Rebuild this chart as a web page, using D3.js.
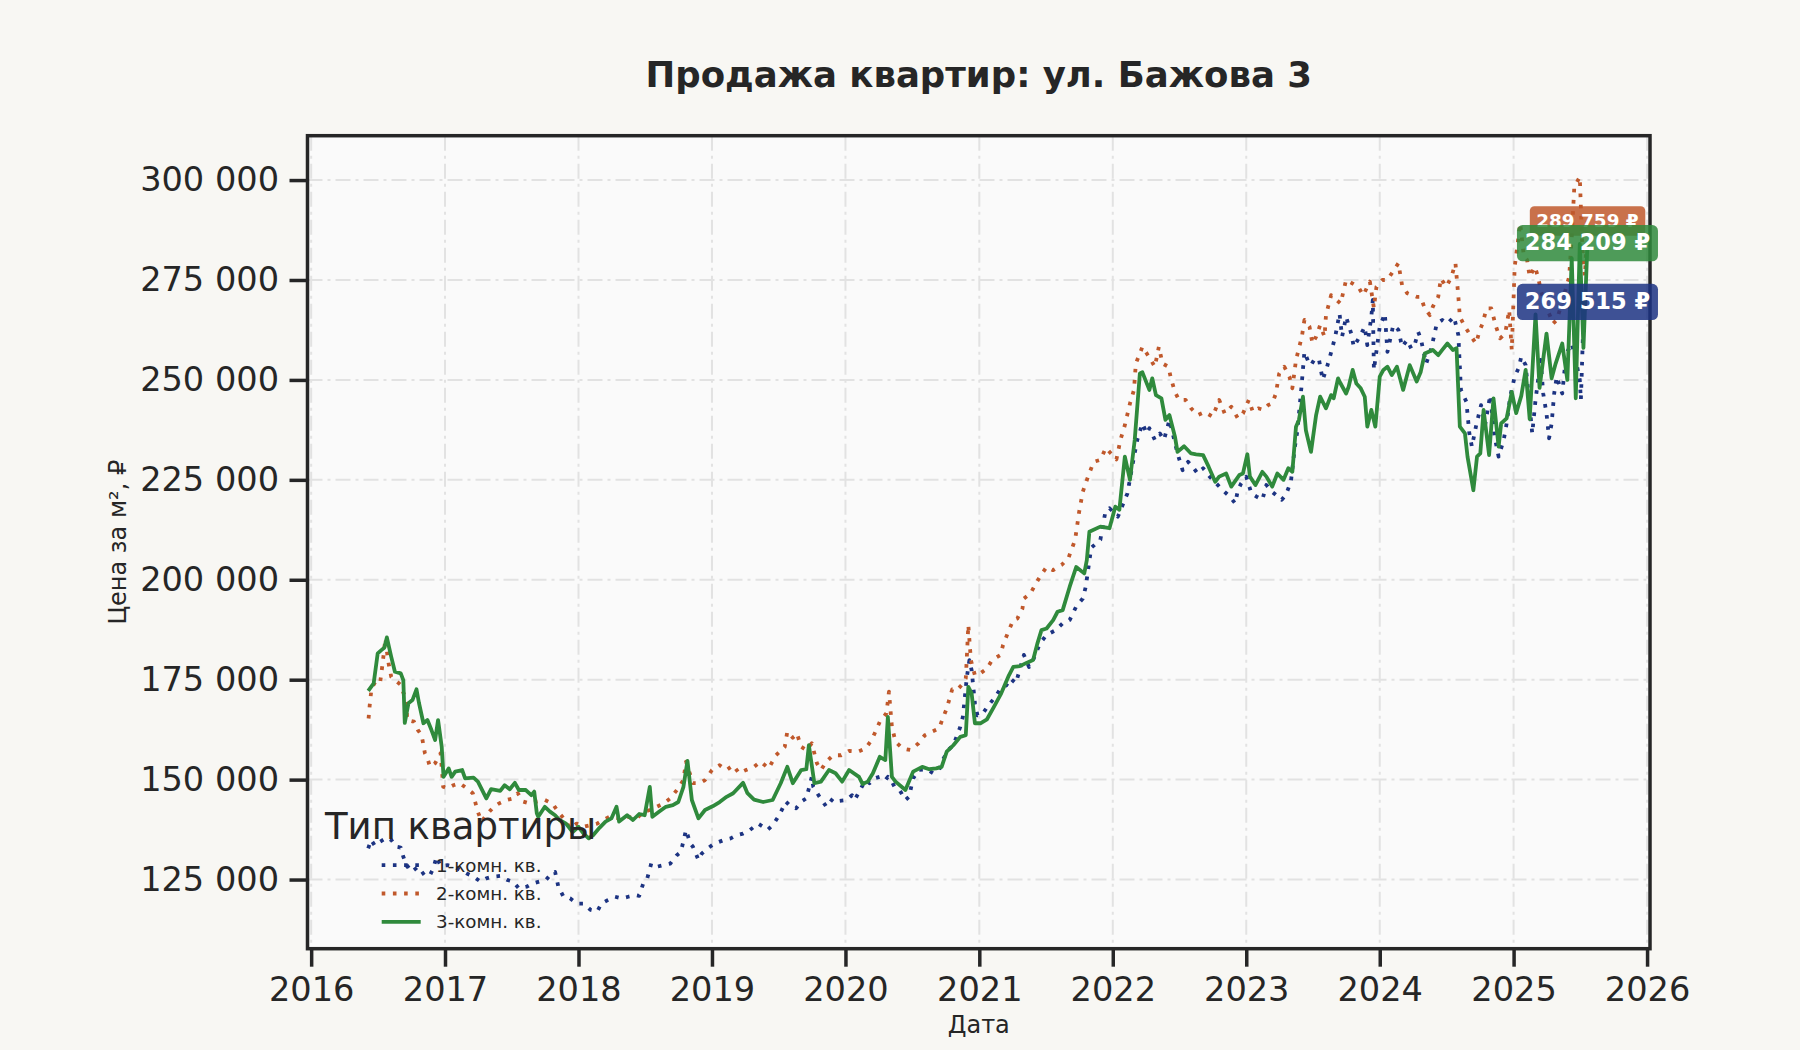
<!DOCTYPE html>
<html><head><meta charset="utf-8">
<script src="https://cdn.jsdelivr.net/npm/d3@7"></script>
<style>
html,body{margin:0;padding:0;background:#f8f7f3;}
svg{display:block;font-family:"DejaVu Sans",sans-serif;}
</style>
</head><body>
<svg id="chart" width="1800" height="1050"></svg>
<script>
// ---------------- DATA ----------------
const chartTitle = "Продажа квартир: ул. Бажова 3";
const xLabel = "Дата";
const yLabel = "Цена за м², ₽";
const legendTitle = "Тип квартиры";
const seriesNames = ["1-комн. кв.", "2-комн. кв.", "3-комн. кв."];
const xTickYears = [2016, 2017, 2018, 2019, 2020, 2021, 2022, 2023, 2024, 2025, 2026];
const yTicks = [125000, 150000, 175000, 200000, 225000, 250000, 275000, 300000];
const xDomain = ["2015-12-22", "2026-01-09"];
const yDomain = [107700, 311100];

const room1 = [
["2016-06-05",132800],["2016-06-13",134900],["2016-06-23",133500],["2016-07-06",134400],["2016-07-26",135500],
["2016-08-07",134900],["2016-08-21",133200],["2016-09-02",133000],["2016-09-09",130700],["2016-09-20",128200],
["2016-10-01",129000],["2016-10-11",127800],["2016-10-26",126100],["2016-11-07",126900],["2016-11-21",126100],
["2016-11-30",127800],["2016-12-09",130700],["2016-12-20",128400],["2017-01-08",128600],["2017-01-26",128200],
["2017-02-12",127400],["2017-03-02",126500],["2017-03-20",125700],["2017-04-08",124500],["2017-04-24",125300],
["2017-05-10",125700],["2017-06-01",125900],["2017-06-20",124900],["2017-07-06",124500],["2017-07-22",122800],
["2017-08-12",123200],["2017-08-28",124000],["2017-09-16",124500],["2017-10-04",124900],["2017-10-19",126500],
["2017-10-29",126900],["2017-11-07",123200],["2017-11-21",120700],["2017-12-09",120300],["2017-12-27",119000],
["2018-01-15",119000],["2018-02-03",117400],["2018-02-21",117000],["2018-03-05",119000],["2018-03-23",119900],
["2018-04-11",120700],["2018-04-29",120300],["2018-05-17",120700],["2018-06-05",121100],["2018-06-16",120900],
["2018-06-27",124000],["2018-07-08",125300],["2018-07-19",129000],["2018-08-03",128200],["2018-08-21",128600],
["2018-09-09",129000],["2018-09-27",131100],["2018-10-08",131900],["2018-10-22",137400],["2018-11-03",134000],
["2018-11-10",133200],["2018-11-25",129900],["2018-12-04",131500],["2018-12-20",132800],["2019-01-08",134000],
["2019-02-03",134900],["2019-02-21",135300],["2019-03-09",136100],["2019-03-27",136500],["2019-04-15",137400],
["2019-05-07",139000],["2019-05-21",138200],["2019-06-02",137400],["2019-06-16",138600],["2019-07-04",141100],
["2019-07-22",144500],["2019-08-01",143600],["2019-08-19",142800],["2019-09-02",144500],["2019-09-16",145300],
["2019-10-01",150700],["2019-10-05",148200],["2019-10-22",145700],["2019-11-10",143200],["2019-11-28",145300],
["2019-12-16",144700],["2020-01-04",144900],["2020-01-19",146100],["2020-01-26",144900],["2020-02-10",147400],
["2020-02-25",149900],["2020-03-07",149100],["2020-03-20",150300],["2020-04-04",150700],["2020-04-19",149900],
["2020-04-26",150700],["2020-05-07",149500],["2020-05-14",148200],["2020-05-28",147400],["2020-06-13",144900],
["2020-06-23",145700],["2020-07-04",150300],["2020-07-19",152400],["2020-08-10",152600],["2020-08-28",151600],
["2020-09-13",152400],["2020-09-23",154900],["2020-10-08",157400],["2020-10-22",158600],["2020-11-10",163200],
["2020-11-17",165700],["2020-11-28",175700],["2020-12-05",179900],["2020-12-11",177400],["2020-12-20",169100],
["2020-12-27",166100],["2021-01-11",166600],["2021-01-26",168600],["2021-02-14",170700],["2021-02-28",172800],
["2021-03-16",173600],["2021-03-27",175300],["2021-04-11",174100],["2021-05-03",181200],["2021-05-17",178200],
["2021-05-28",179900],["2021-06-16",184100],["2021-07-04",186200],["2021-07-29",187400],["2021-08-17",189100],
["2021-09-05",189900],["2021-09-23",193300],["2021-10-11",195300],["2021-10-19",198200],["2021-11-03",208000],
["2021-11-28",210000],["2021-12-11",216600],["2021-12-23",217900],["2022-01-15",215800],["2022-02-10",221600],
["2022-02-28",230800],["2022-03-09",235000],["2022-03-23",239100],["2022-04-04",236600],["2022-04-11",237900],
["2022-04-26",235000],["2022-05-10",236600],["2022-05-21",235000],["2022-06-05",240000],["2022-06-16",235800],
["2022-06-27",231600],["2022-07-11",227400],["2022-07-26",229500],["2022-08-07",228300],["2022-08-21",226600],
["2022-09-05",227900],["2022-09-23",225800],["2022-10-11",224100],["2022-10-29",222400],["2022-11-17",220800],
["2022-12-02",219100],["2022-12-09",222400],["2022-12-18",224100],["2023-01-01",225800],["2023-01-15",221600],
["2023-01-29",220800],["2023-02-14",220000],["2023-02-25",223700],["2023-03-13",222000],["2023-04-08",220000],
["2023-04-19",221200],["2023-05-03",224500],["2023-05-14",233300],["2023-05-21",237400],["2023-06-01",248300],
["2023-06-09",257000],["2023-06-20",254500],["2023-06-27",253700],["2023-07-08",255400],["2023-07-19",255000],
["2023-07-29",250000],["2023-08-10",253300],["2023-08-23",257500],["2023-09-02",261200],["2023-09-13",266600],
["2023-09-20",260800],["2023-10-01",265800],["2023-10-15",261600],["2023-10-22",258300],["2023-11-07",260800],
["2023-11-21",263300],["2023-11-28",258700],["2023-12-09",265800],["2023-12-13",270000],["2023-12-16",252500],
["2024-01-01",263300],["2024-01-15",266600],["2024-01-22",257000],["2024-02-07",263700],["2024-02-21",262500],
["2024-03-02",258300],["2024-03-16",260000],["2024-03-27",257900],["2024-04-04",258300],["2024-04-15",262000],
["2024-04-22",260400],["2024-05-07",254100],["2024-05-21",257900],["2024-06-05",264100],["2024-06-20",265000],
["2024-07-04",264100],["2024-07-22",265800],["2024-08-03",261200],["2024-08-10",247500],["2024-08-25",244500],
["2024-09-02",236600],["2024-09-09",233300],["2024-09-20",238300],["2024-10-04",243700],["2024-10-15",238700],
["2024-10-29",246200],["2024-11-10",235800],["2024-11-21",230800],["2024-12-05",235000],["2024-12-13",239100],
["2024-12-23",246000],["2025-01-04",250800],["2025-01-15",253000],["2025-01-22",255800],["2025-02-03",253700],
["2025-02-14",243300],["2025-02-21",236600],["2025-03-02",245000],["2025-03-16",255000],["2025-03-23",246600],
["2025-04-01",241600],["2025-04-08",235400],["2025-04-15",239100],["2025-04-22",246600],["2025-04-29",250800],
["2025-05-14",246600],["2025-05-25",256600],["2025-06-09",259100],["2025-06-20",255000],["2025-07-01",250000],
["2025-07-04",245000],["2025-07-11",265000],["2025-07-22",269515]
];

const room2 = [
["2016-06-06",165300],["2016-06-09",168500],["2016-06-14",172800],["2016-06-27",174900],["2016-07-08",174500],
["2016-07-15",179500],["2016-07-22",185300],["2016-07-29",179900],["2016-08-07",175700],["2016-08-17",174900],
["2016-09-02",173700],["2016-09-16",169900],["2016-09-20",164900],["2016-10-08",164500],["2016-10-19",162400],
["2016-10-29",161100],["2016-11-07",156600],["2016-11-14",155300],["2016-11-21",153200],["2016-12-05",154100],
["2016-12-20",156600],["2016-12-27",148200],["2017-01-08",147800],["2017-01-24",148600],["2017-02-10",149100],
["2017-03-02",147800],["2017-03-18",146600],["2017-04-01",141900],["2017-04-11",139500],["2017-04-24",141100],
["2017-05-14",143200],["2017-05-28",144000],["2017-06-18",144900],["2017-07-06",145300],["2017-07-19",146600],
["2017-08-03",144500],["2017-08-21",144000],["2017-09-09",144500],["2017-10-01",144900],["2017-10-22",144000],
["2017-11-07",141900],["2017-11-25",139900],["2017-12-09",137800],["2017-12-27",139000],["2018-01-15",138200],
["2018-02-03",138600],["2018-02-21",139000],["2018-03-09",139900],["2018-03-27",140700],["2018-04-22",140300],
["2018-05-14",140700],["2018-06-09",140300],["2018-06-27",141900],["2018-07-15",142400],["2018-08-03",143200],
["2018-08-21",144000],["2018-09-09",145300],["2018-09-27",147400],["2018-10-15",149900],["2018-10-22",154500],
["2018-11-03",151100],["2018-11-10",149100],["2018-11-28",149100],["2018-12-13",149900],["2019-01-01",152400],
["2019-01-22",153600],["2019-02-10",152400],["2019-02-28",153600],["2019-03-16",151600],["2019-04-04",152400],
["2019-04-26",153200],["2019-05-14",154500],["2019-06-05",152800],["2019-06-25",156100],["2019-07-19",158200],
["2019-07-26",162000],["2019-08-10",160500],["2019-08-21",161600],["2019-09-02",158200],["2019-09-16",157400],
["2019-10-01",159100],["2019-10-15",154100],["2019-10-26",152400],["2019-11-10",154500],["2019-11-28",156100],
["2019-12-20",156100],["2020-01-11",157200],["2020-02-05",157000],["2020-02-25",157800],["2020-03-13",160000],
["2020-03-23",162000],["2020-04-04",164500],["2020-04-22",166600],["2020-04-29",172000],["2020-05-07",163200],
["2020-05-17",159500],["2020-06-05",157800],["2020-06-27",157400],["2020-07-19",159100],["2020-08-05",161100],
["2020-08-25",162000],["2020-09-13",162800],["2020-09-23",165300],["2020-10-04",167800],["2020-10-19",172600],
["2020-11-01",172400],["2020-11-14",173700],["2020-11-25",175300],["2020-11-28",180700],["2020-12-02",188700],
["2020-12-09",179900],["2020-12-20",176100],["2021-01-04",176600],["2021-01-22",177800],["2021-02-05",179900],
["2021-02-28",181200],["2021-03-07",183700],["2021-03-23",187400],["2021-04-04",189900],["2021-04-15",190300],
["2021-04-29",192800],["2021-05-03",195300],["2021-05-21",196600],["2021-06-05",199100],["2021-06-16",200800],
["2021-07-04",203200],["2021-07-22",202400],["2021-08-14",203700],["2021-09-02",205500],["2021-09-20",210000],
["2021-10-01",217000],["2021-10-11",222000],["2021-10-26",226000],["2021-11-10",229500],["2021-11-28",230000],
["2021-12-13",233000],["2021-12-27",231600],["2022-01-11",230100],["2022-01-22",235000],["2022-02-03",238700],
["2022-02-17",244100],["2022-02-28",247500],["2022-03-05",254100],["2022-03-16",256600],["2022-03-23",258300],
["2022-04-04",256600],["2022-04-15",255000],["2022-04-26",253300],["2022-05-07",258300],["2022-05-17",254100],
["2022-06-02",253300],["2022-06-09",250400],["2022-06-20",247000],["2022-07-01",245000],["2022-07-19",245000],
["2022-08-03",242900],["2022-08-21",241200],["2022-09-09",242000],["2022-10-01",240800],["2022-10-19",245000],
["2022-11-03",241600],["2022-11-21",243300],["2022-12-09",240400],["2022-12-23",241600],["2023-01-08",245000],
["2023-01-19",242000],["2023-02-03",242900],["2023-02-17",242500],["2023-03-02",243700],["2023-03-13",244100],
["2023-03-23",246600],["2023-04-01",251600],["2023-04-15",253300],["2023-04-29",250800],["2023-05-07",247900],
["2023-05-17",255000],["2023-06-02",260800],["2023-06-09",265000],["2023-06-23",263300],["2023-07-01",259100],
["2023-07-11",260800],["2023-07-22",263700],["2023-08-03",260800],["2023-08-07",266200],["2023-08-21",271200],
["2023-09-05",270000],["2023-09-16",269100],["2023-10-01",275000],["2023-10-19",274100],["2023-11-03",273300],
["2023-11-17",271200],["2023-12-05",274600],["2023-12-16",268000],["2023-12-23",273300],["2024-01-08",275000],
["2024-01-22",275000],["2024-02-03",276700],["2024-02-21",279200],["2024-03-02",273700],["2024-03-16",271700],
["2024-04-11",270800],["2024-04-22",270800],["2024-05-03",267900],["2024-05-17",266200],["2024-05-25",268300],
["2024-06-09",270800],["2024-06-16",275400],["2024-07-01",273300],["2024-07-15",275800],["2024-07-26",279200],
["2024-08-03",270800],["2024-08-07",265800],["2024-08-21",263300],["2024-09-05",261200],["2024-09-20",259100],
["2024-10-01",262500],["2024-10-08",264100],["2024-10-19",267900],["2024-11-01",267900],["2024-11-14",263300],
["2024-11-25",260400],["2024-12-09",261600],["2024-12-20",267500],["2024-12-27",257500],["2025-01-04",278300],
["2025-01-11",283300],["2025-01-19",289200],["2025-01-29",281000],["2025-02-07",280000],["2025-02-14",275800],
["2025-02-28",278300],["2025-03-09",275800],["2025-03-16",272500],["2025-03-27",269100],["2025-04-08",266600],
["2025-04-19",264100],["2025-04-29",265000],["2025-05-10",268300],["2025-06-02",275800],["2025-06-09",285800],
["2025-06-16",298300],["2025-07-01",300800],["2025-07-08",283000],["2025-07-15",276000],["2025-07-22",289759]
];

const room3 = [
["2016-06-05",172200],["2016-06-20",174100],["2016-07-01",181600],["2016-07-11",182400],["2016-07-19",183000],
["2016-07-26",185600],["2016-08-07",180700],["2016-08-17",177000],["2016-09-02",176600],["2016-09-09",174900],
["2016-09-13",164200],["2016-09-23",169100],["2016-10-04",169900],["2016-10-15",172600],["2016-10-22",169100],
["2016-11-03",164100],["2016-11-14",164900],["2016-11-25",162400],["2016-12-05",159900],["2016-12-13",164900],
["2016-12-23",158200],["2016-12-28",150700],["2017-01-11",152800],["2017-01-19",150700],["2017-01-29",152000],
["2017-02-17",152400],["2017-02-25",150300],["2017-03-20",150500],["2017-04-01",149500],["2017-04-24",145300],
["2017-05-07",147600],["2017-06-01",147200],["2017-06-13",148600],["2017-06-27",147600],["2017-07-11",149200],
["2017-07-22",147400],["2017-08-10",147400],["2017-08-25",146100],["2017-09-02",147000],["2017-09-09",141600],
["2017-09-13",140700],["2017-10-01",143200],["2017-10-15",142000],["2017-10-29",141100],["2017-11-10",139900],
["2017-11-28",139000],["2017-12-16",136900],["2018-01-01",138200],["2018-01-15",136500],["2018-01-29",135300],
["2018-02-10",136100],["2018-02-28",138000],["2018-03-16",139500],["2018-04-01",140300],["2018-04-15",143200],
["2018-04-22",139500],["2018-05-14",141100],["2018-05-30",139900],["2018-06-16",141400],["2018-07-01",141100],
["2018-07-15",148200],["2018-07-22",140700],["2018-08-10",142000],["2018-08-28",143200],["2018-09-16",143600],
["2018-10-01",144400],["2018-10-15",148200],["2018-10-26",154700],["2018-11-07",144900],["2018-11-25",140300],
["2018-12-13",142400],["2019-01-04",143400],["2019-01-22",144400],["2019-02-10",145700],["2019-02-28",146600],
["2019-03-27",149200],["2019-04-08",146600],["2019-04-26",145000],["2019-05-21",144400],["2019-06-16",144900],
["2019-07-08",149100],["2019-07-26",153200],["2019-08-10",149100],["2019-09-02",152400],["2019-09-16",152600],
["2019-09-23",158600],["2019-10-08",149100],["2019-10-26",149500],["2019-11-17",152400],["2019-12-05",151600],
["2019-12-23",149500],["2020-01-11",152400],["2020-02-07",150700],["2020-02-17",148900],["2020-03-02",149500],
["2020-03-16",151600],["2020-04-04",155700],["2020-04-19",154900],["2020-04-26",165700],["2020-05-07",150700],
["2020-05-17",149500],["2020-06-13",147400],["2020-07-04",152000],["2020-07-29",153200],["2020-08-17",152600],
["2020-09-05",152800],["2020-09-20",153200],["2020-10-04",157000],["2020-10-22",158600],["2020-11-10",160700],
["2020-11-25",161100],["2020-12-02",173200],["2020-12-11",171600],["2020-12-20",164100],["2021-01-04",164100],
["2021-01-22",165100],["2021-02-10",168200],["2021-03-02",171600],["2021-03-23",176100],["2021-04-04",178200],
["2021-04-22",178400],["2021-05-10",179200],["2021-05-28",179900],["2021-06-09",184100],["2021-06-20",187400],
["2021-07-04",187800],["2021-07-22",189900],["2021-08-03",192000],["2021-08-17",192400],["2021-09-05",198200],
["2021-09-23",203200],["2021-10-15",201600],["2021-10-22",204900],["2021-10-29",212000],["2021-11-28",213300],
["2021-12-23",212900],["2022-01-08",218300],["2022-01-19",217500],["2022-02-03",230800],["2022-02-17",225000],
["2022-03-02",235000],["2022-03-16",251600],["2022-03-23",251900],["2022-04-11",247500],["2022-04-19",250400],
["2022-04-29",246200],["2022-05-14",245400],["2022-05-25",240000],["2022-06-05",241200],["2022-06-20",235800],
["2022-06-27",232000],["2022-07-15",233400],["2022-08-03",231600],["2022-08-17",231400],["2022-09-05",231200],
["2022-09-20",228300],["2022-10-08",224500],["2022-10-19",225800],["2022-11-07",226600],["2022-11-21",223300],
["2022-12-13",226200],["2022-12-23",226600],["2023-01-04",231400],["2023-01-11",225800],["2023-01-26",223700],
["2023-02-14",227000],["2023-02-25",225800],["2023-03-13",223300],["2023-03-27",226600],["2023-04-13",225000],
["2023-04-26",227900],["2023-05-07",227000],["2023-05-17",238300],["2023-05-25",240000],["2023-06-05",245800],
["2023-06-13",237400],["2023-06-27",232000],["2023-07-11",241200],["2023-07-22",245800],["2023-08-07",242900],
["2023-08-21",246200],["2023-08-28",245400],["2023-09-09",250400],["2023-09-16",249100],["2023-10-01",246600],
["2023-10-08",248300],["2023-10-19",252500],["2023-10-29",249100],["2023-11-10",247900],["2023-11-21",245800],
["2023-11-28",238300],["2023-12-09",242500],["2023-12-20",238300],["2024-01-01",250800],["2024-01-11",252500],
["2024-01-22",253300],["2024-02-03",251200],["2024-02-17",253300],["2024-03-05",247500],["2024-03-23",253700],
["2024-04-11",249600],["2024-04-22",252000],["2024-05-03",256600],["2024-05-25",257500],["2024-06-09",256200],
["2024-06-20",257500],["2024-07-04",259100],["2024-07-19",257500],["2024-07-29",257900],["2024-08-07",238300],
["2024-08-21",236600],["2024-08-28",230800],["2024-09-13",222400],["2024-09-23",230800],["2024-10-02",231600],
["2024-10-11",242500],["2024-10-26",231200],["2024-11-07",245400],["2024-11-21",233300],["2024-11-28",239100],
["2024-12-13",240400],["2024-12-27",247000],["2025-01-08",241700],["2025-01-22",246000],["2025-02-03",252500],
["2025-02-14",240200],["2025-03-02",266400],["2025-03-13",248000],["2025-04-01",261600],["2025-04-15",250400],
["2025-04-26",254100],["2025-05-14",259100],["2025-05-28",250000],["2025-06-09",280400],["2025-06-20",245400],
["2025-07-01",284000],["2025-07-11",258000],["2025-07-22",284209]
];

const seriesData = [room1, room2, room3];

// ---------------- STYLE ----------------
const W = 1800, H = 1050;
const plot = {left: 307.5, right: 1650, top: 135.7, bottom: 948.7};
const ink = "#262626";
const colors = ["#1c3382", "#c0582b", "#2f8a3c"];
const dashes = ["3.6 7.6", "3.6 7.6", null];
const lineWidths = [3.8, 3.8, 3.8];
const endLabelFont = [22.5, 18.4, 22.5];

const svg = d3.select("#chart");
svg.append("rect").attr("width", W).attr("height", H).attr("fill", "#f8f7f3");
svg.append("rect").attr("x", plot.left).attr("y", plot.top)
  .attr("width", plot.right - plot.left).attr("height", plot.bottom - plot.top).attr("fill", "#fafafa");

const parse = d3.utcParse("%Y-%m-%d");
const x = d3.scaleUtc().domain(xDomain.map(parse)).range([plot.left, plot.right]);
const y = d3.scaleLinear().domain(yDomain).range([plot.bottom, plot.top]);
const yearDates = xTickYears.map(yr => new Date(Date.UTC(yr, 0, 1)));
const fmtNum = v => d3.format(",")(v).replace(/,/g, " ");

// grid
const grid = svg.append("g").attr("stroke", "#e2e2e2").attr("stroke-width", 2)
  .attr("stroke-dasharray", "15 5 3 5").attr("fill", "none");
grid.selectAll(".gx").data(yearDates).join("line")
  .attr("x1", d => x(d)).attr("x2", d => x(d)).attr("y1", plot.top).attr("y2", plot.bottom);
grid.selectAll(".gy").data(yTicks).join("line")
  .attr("y1", d => y(d)).attr("y2", d => y(d)).attr("x1", plot.left).attr("x2", plot.right);

// clip
svg.append("defs").append("clipPath").attr("id", "clip").append("rect")
  .attr("x", plot.left).attr("y", plot.top).attr("width", plot.right - plot.left).attr("height", plot.bottom - plot.top);

const line = d3.line().x(d => x(parse(d[0]))).y(d => y(d[1]));
const linesG = svg.append("g").attr("clip-path", "url(#clip)");
seriesData.forEach((s, i) => {
  linesG.append("path").datum(s).attr("d", line).attr("fill", "none")
    .attr("stroke", colors[i]).attr("stroke-width", lineWidths[i])
    .attr("stroke-dasharray", dashes[i]).attr("stroke-linejoin", "round")
    .attr("stroke-linecap", "butt");
});

// axes
const xAxis = svg.append("g").attr("transform", `translate(0,${plot.bottom})`)
  .call(d3.axisBottom(x).tickValues(yearDates).tickFormat(d3.utcFormat("%Y")).tickSize(18).tickPadding(10.4));
const yAxis = svg.append("g").attr("transform", `translate(${plot.left},0)`)
  .call(d3.axisLeft(y).tickValues(yTicks).tickFormat(fmtNum).tickSize(18).tickPadding(10.5));
[xAxis, yAxis].forEach(a => {
  a.select(".domain").remove();
  a.selectAll(".tick line").attr("stroke", ink).attr("stroke-width", 3.5);
  a.selectAll(".tick text").attr("fill", ink).style("font-size", "33.6px").style("font-family", "DejaVu Sans");
});

// spines
svg.append("rect").attr("x", plot.left).attr("y", plot.top)
  .attr("width", plot.right - plot.left).attr("height", plot.bottom - plot.top)
  .attr("fill", "none").attr("stroke", ink).attr("stroke-width", 3.5);

// titles
svg.append("text").attr("x", (plot.left + plot.right) / 2).attr("y", 87)
  .attr("text-anchor", "middle").attr("fill", ink).style("font-size", "35.5px").style("font-weight", "bold")
  .text(chartTitle);
svg.append("text").attr("x", (plot.left + plot.right) / 2).attr("y", 1033)
  .attr("text-anchor", "middle").attr("fill", ink).style("font-size", "24px").text(xLabel);
svg.append("text").attr("transform", `translate(126,${(plot.top + plot.bottom) / 2}) rotate(-90)`)
  .attr("text-anchor", "middle").attr("fill", ink).style("font-size", "24px").text(yLabel);

// end labels
seriesData.forEach((s, i) => {
  const last = s[s.length - 1];
  const cx = x(parse(last[0])), cy = y(last[1]), fs = endLabelFont[i];
  const g = svg.append("g");
  const t = g.append("text").attr("x", cx).attr("y", cy + 0.3 * fs).attr("text-anchor", "middle")
    .attr("fill", "#ffffff").style("font-size", fs + "px").style("font-weight", "bold")
    .text(fmtNum(last[1]) + " ₽");
  const bb = t.node().getBBox();
  const px = 0.35 * fs, py = 0.23 * fs;
  const bh = bb.height + 2 * py;
  g.insert("rect", "text").attr("x", bb.x - px).attr("y", cy - bh / 2)
    .attr("width", bb.width + 2 * px).attr("height", bh).attr("rx", 0.25 * fs)
    .attr("fill", colors[i]).attr("fill-opacity", 0.85);
});

// legend
const lg = svg.append("g");
lg.append("text").attr("x", 325).attr("y", 839.3).attr("fill", ink).style("font-size", "37px").text(legendTitle);
seriesNames.forEach((n, i) => {
  const by = 871.7 + i * 28.3;
  lg.append("line").attr("x1", 381.7).attr("x2", 420.7).attr("y1", by - 6.5).attr("y2", by - 6.5)
    .attr("stroke", colors[i]).attr("stroke-width", lineWidths[i]).attr("stroke-dasharray", dashes[i]);
  lg.append("text").attr("x", 436).attr("y", by).attr("fill", ink).style("font-size", "18.3px").text(n);
});
</script>
</body></html>
